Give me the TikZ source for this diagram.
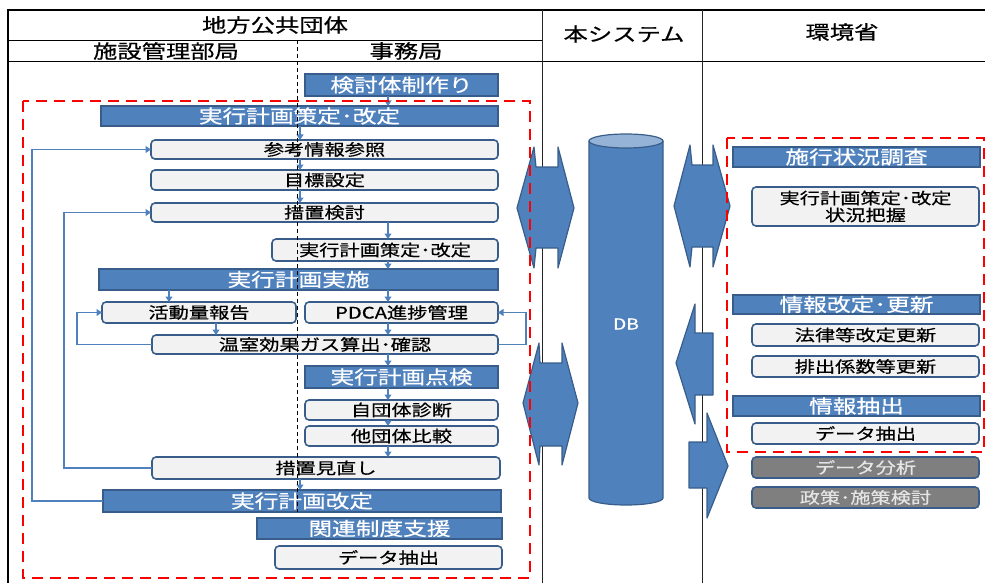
\documentclass[tikz,border=0pt]{standalone}
\usepackage{fontspec}
\usetikzlibrary{arrows.meta,calc}
\newfontfamily\jp{Noto Sans CJK JP}[FakeStretch=1.28,FakeBold=0.6]
\definecolor{bfill}{HTML}{4F81BD}
\definecolor{bline}{HTML}{385D8A}
\definecolor{lfill}{HTML}{F2F2F2}
\definecolor{gfill}{HTML}{7F7F7F}
\definecolor{dbtop}{HTML}{95B3D7}
\definecolor{redd}{HTML}{FF0000}
\newcommand\bx[7]{\node[#2, minimum width={(#5-#3)*1pt}, minimum height={(#6-#4)*1pt}] (#1) at ({(#3+#5)/2},{(#4+#6)/2}) {#7};}
\tikzset{
  basebox/.style={draw=bline, line width=1.6pt, inner sep=0pt, outer sep=0pt, align=center},
  darkbox/.style={basebox, fill=bfill, text=white, font=\jp\fontsize{18.5}{19}\selectfont},
  lightbox/.style={basebox, fill=lfill, text=black, rounded corners=4pt, font=\jp\fontsize{15.8}{17}\selectfont},
  graybox/.style={basebox, fill=gfill, text=white!90!black, rounded corners=4pt, font=\jp\fontsize{15.8}{17}\selectfont},
  headtxt/.style={font=\jp\fontsize{19}{20}\selectfont, inner sep=0pt},
  arr/.style={draw=bfill, line width=1.1pt, -{Triangle[length=5.5pt,width=7pt]}},
  bigarrow/.style={fill=bfill, draw=bline, line width=1.2pt, line join=round},
  reddash/.style={draw=redd, line width=2.2pt, dash pattern=on 11pt off 7pt},
}
\begin{document}
\begin{tikzpicture}[x=1pt,y=-1pt]
\useasboundingbox (0,0) rectangle (985,583);
% frame lines
\draw[line width=1.2pt] (8,10) -- (985,10);
\draw[line width=0.9pt] (8,40) -- (542,40);
\draw[line width=0.9pt] (8,61) -- (985,61);
\draw[line width=1pt,black!85] (542,10) -- (542,583);
\draw[line width=1pt,black!85] (702,10) -- (702,583);
\draw[line width=2.6pt] (8,9) -- (8,583);
% headers
\node[headtxt] (h1) at (275,25) {地方公共団体};
\node[headtxt] (h2) at (166,51) {施設管理部局};
\node[headtxt] (h3) at (406,51) {事務局};
\node[headtxt] (h4) at (624,34) {本システム};
\node[headtxt] (h5) at (842,32) {環境省};
% left boxes
\bx{kento}{darkbox}{305}{74}{498}{96}{検討体制作り}
\bx{sakutei}{darkbox}{101}{106}{498}{126}{実行計画策定･改定}
\bx{sanko}{lightbox}{151}{140}{498}{159}{参考情報参照}
\bx{mokuhyo}{lightbox}{151}{170}{498}{190}{目標設定}
\bx{sochi}{lightbox}{151}{203}{498}{222}{措置検討}
\bx{sakuteib}{lightbox}{272}{239}{498}{261}{実行計画策定･改定}
\bx{jisshi}{darkbox}{99}{269}{498}{290}{実行計画実施}
\bx{katsudo}{lightbox}{102}{302}{296}{323}{活動量報告}
\bx{pdca}{lightbox}{305}{302}{498}{323}{PDCA進捗管理}
\bx{onshitsu}{lightbox}{152}{335}{498}{354}{温室効果ガス算出･確認}
\bx{tenken}{darkbox}{305}{366}{498}{388}{実行計画点検}
\bx{jidan}{lightbox}{305}{400}{498}{420}{自団体診断}
\bx{tadan}{lightbox}{305}{426}{498}{446}{他団体比較}
\bx{minaoshi}{lightbox}{152}{457}{500}{479}{措置見直し}
\bx{kaitei}{darkbox}{103}{490}{501}{512}{実行計画改定}
\bx{kanren}{darkbox}{257}{518}{502}{539}{関連制度支援}
\bx{chushutsu}{lightbox}{275}{546}{502}{569}{データ抽出}
% right boxes
\bx{shiko}{darkbox}{733}{147}{980}{167}{施行状況調査}
\bx{jokyo}{lightbox}{752}{187}{979}{226}{実行計画策定･改定\\状況把握}
\bx{koshin}{darkbox}{733}{295}{980}{314}{情報改定･更新}
\bx{horitsu}{lightbox}{752}{324}{979}{346}{法律等改定更新}
\bx{haishutsu}{lightbox}{752}{356}{979}{377}{排出係数等更新}
\bx{joho}{darkbox}{733}{396}{980}{416}{情報抽出}
\bx{datar}{lightbox}{752}{423}{979}{444}{データ抽出}
\bx{bunseki}{graybox}{752}{457}{979}{478}{データ分析}
\bx{seisaku}{graybox}{752}{487}{979}{508}{政策･施策検討}
% column coordinates
\coordinate (cA) at (300,0);
\coordinate (cB) at (388,0);
\coordinate (cK) at (169,0);
\coordinate (cG) at (216,0);
\coordinate (lxa) at (32,0);
\coordinate (lxb) at (64,0);
\coordinate (lxc) at (77,0);
\coordinate (lxd) at (526,0);
% vertical connectors
\draw[arr] (kento.south -| cB) -- (sakutei.north -| cB);
\draw[arr] (sakutei.south -| cA) -- (sanko.north -| cA);
\draw[arr] (sanko.south -| cA) -- (mokuhyo.north -| cA);
\draw[arr] (mokuhyo.south -| cA) -- (sochi.north -| cA);
\draw[arr] (sochi.south -| cB) -- (sakuteib.north -| cB);
\draw[arr] (sakuteib.south -| cB) -- (jisshi.north -| cB);
\draw[arr] (jisshi.south -| cK) -- (katsudo.north -| cK);
\draw[arr] (jisshi.south -| cB) -- (pdca.north -| cB);
\draw[arr] (katsudo.south -| cG) -- (onshitsu.north -| cG);
\draw[arr] (pdca.south -| cB) -- (onshitsu.north -| cB);
\draw[arr] (onshitsu.south -| cB) -- (tenken.north -| cB);
\draw[arr] (tenken.south -| cB) -- (jidan.north -| cB);
\draw[arr] (jidan.south -| cB) -- (tadan.north -| cB);
\draw[arr] (tadan.south -| cB) -- (minaoshi.north -| cB);
\draw[arr] (minaoshi.south -| cA) -- (kaitei.north -| cA);
% loop connectors
\draw[arr] (kaitei.west) -| (lxa |- sanko.west) -- (sanko.west);
\draw[arr] (minaoshi.west) -| (lxb |- sochi.west) -- (sochi.west);
\draw[arr] (onshitsu.west) -| (lxc |- katsudo.west) -- (katsudo.west);
\draw[arr] (onshitsu.east) -| (lxd |- pdca.east) -- (pdca.east);
% lane divider
\draw[line width=1pt, dash pattern=on 4pt off 3pt] (297,40) -- (297,512);
% DB cylinder
\draw[fill=bfill, draw=bline, line width=1.2pt] (589,141) -- (589,498) arc[start angle=180, end angle=360, x radius=37pt, y radius=7pt] -- (663,141);
\draw[fill=dbtop, draw=bline, line width=1.2pt] (626,141) ellipse [x radius=37pt, y radius=7pt];
\node[text=white, font=\jp\fontsize{15}{16}\selectfont] (db) at (626,324) {DB};
% big arrows
\draw[bigarrow] (517,208) -- (534,147) -- (536,167) -- (558,167) -- (558,147) -- (574,208) -- (558,268) -- (558,248) -- (536,248) -- (534,268) -- cycle;
\draw[bigarrow] (523,403) -- (539,343) -- (540,363) -- (562,363) -- (562,343) -- (578,403) -- (562,465) -- (562,446) -- (540,446) -- (539,465) -- cycle;
\draw[bigarrow] (674,206) -- (690,145) -- (692,165) -- (713,165) -- (713,145) -- (730,206) -- (713,267) -- (713,247) -- (692,247) -- (690,267) -- cycle;
\draw[bigarrow] (676,363) -- (695,304) -- (695,333) -- (713,333) -- (713,395) -- (695,395) -- (695,424) -- cycle;
\draw[bigarrow] (689,442) -- (707,442) -- (707,413) -- (728,466) -- (707,518) -- (707,488) -- (689,488) -- cycle;
% red dashed groups
\draw[reddash] (23,101) rectangle (530,578);
\draw[reddash] (727,138) rectangle (984,452);
\end{tikzpicture}
\end{document}
